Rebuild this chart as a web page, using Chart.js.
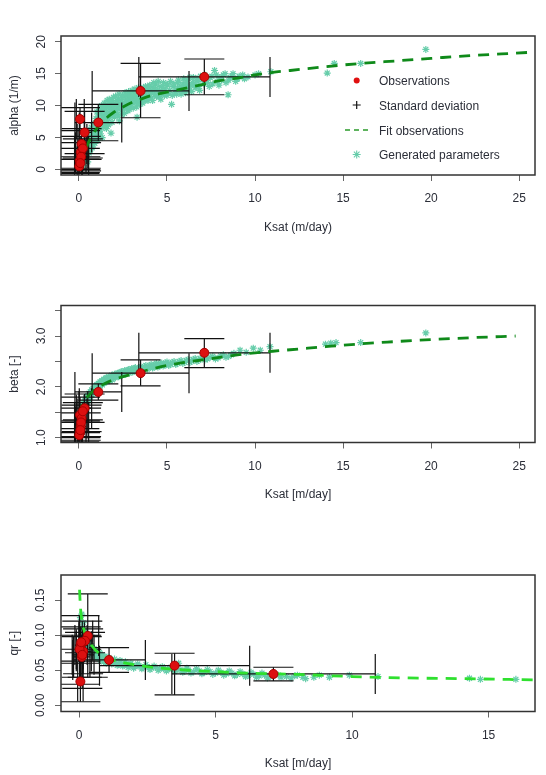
<!DOCTYPE html>
<html>
<head>
<meta charset="utf-8">
<script src="https://cdn.jsdelivr.net/npm/chart.js@4.4.1/dist/chart.umd.min.js"></script>
<style>
    body { margin: 0; background: #fff; }
    canvas { position: absolute; left: 0; }
</style>
</head>
<body>
<canvas id="alphaChart" width="546" height="250" style="top:0px"></canvas>
<canvas id="betaChart" width="546" height="250" style="top:260px"></canvas>
<canvas id="qrChart" width="546" height="245" style="top:530px"></canvas>
<script>
// Observations (shared Ksat values and their standard deviation range)
const obsKsat   = [7.12, 3.50, 1.10, 0.32, 0.06, 0.15, 0.10, 0.22, 0.05, 0.02, 0.12, 0.08];
const obsKsatLo = [3.40, 0.75, -0.23, 0.02, -0.15, -0.10, -0.20, 0.00, -0.05, -0.10, -0.25, 0.00];
const obsKsatHi = [10.85, 6.25, 2.43, 0.72, 0.30, 0.45, 0.40, 0.50, 0.15, 0.15, 0.55, 0.20];

const obsAlpha   = [14.5, 12.3, 7.35, 5.8, 7.9, 4.0, 2.7, 3.3, 1.4, 0.5, 2.0, 1.0];
const obsAlphaLo = [11.7, 8.1, 4.5, 2.5, 6.1, 1.6, 0.2, 1.8, -0.5, -0.6, -0.2, 0.0];
const obsAlphaHi = [17.3, 16.6, 10.2, 9.1, 9.7, 6.4, 5.2, 4.8, 3.3, 1.6, 4.2, 2.0];

const obsBeta   = [2.67, 2.27, 1.90, 1.58, 1.45, 1.38, 1.22, 1.52, 1.09, 1.05, 1.30, 1.15];
const obsBetaLo = [2.38, 2.02, 1.74, 1.30, 1.10, 1.12, 0.95, 1.35, 0.85, 0.92, 1.02, 1.00];
const obsBetaHi = [2.95, 2.53, 2.06, 1.86, 1.80, 1.64, 1.49, 1.69, 1.33, 1.18, 1.58, 1.30];

const obsQr   = [0.0447, 0.0566, 0.0647, 0.099, 0.086, 0.077, 0.069, 0.092, 0.034, 0.080, 0.072, 0.090];
const obsQrLo = [0.0347, 0.0147, 0.0471, 0.040, 0.060, 0.045, 0.040, 0.075, 0.005, 0.030, 0.024, 0.080];
const obsQrHi = [0.0543, 0.0743, 0.0823, 0.159, 0.112, 0.109, 0.098, 0.104, 0.063, 0.128, 0.120, 0.100];

// Fitted curves
const fitKsatAlpha = [0.15, 0.3, 0.5, 0.75, 1, 1.5, 2, 2.5, 3, 3.5, 4, 5, 6, 7, 8, 9, 10, 11, 12, 14, 16, 18, 20, 22, 24, 26];
const fitAlpha     = [0.3, 2.2, 4.0, 5.3, 6.4, 7.9, 9.0, 9.8, 10.5, 11.0, 11.5, 12.1, 12.7, 13.3, 13.9, 14.3, 14.8, 15.2, 15.5, 16.1, 16.6, 17.0, 17.4, 17.8, 18.1, 18.4];

const fitKsatBeta = [0.05, 0.1, 0.2, 0.35, 0.5, 0.75, 1, 1.5, 2, 2.5, 3, 4, 5, 6, 7, 8, 9, 10, 11, 12, 13, 14, 15, 17.5, 20, 22.5, 24.8];
const fitBeta     = [1.45, 1.55, 1.66, 1.75, 1.81, 1.90, 1.97, 2.07, 2.15, 2.20, 2.25, 2.34, 2.42, 2.48, 2.53, 2.58, 2.63, 2.67, 2.70, 2.73, 2.76, 2.79, 2.82, 2.88, 2.93, 2.97, 3.00];

const fitKsatQr = [0.02, 0.04, 0.07, 0.12, 0.2, 0.35, 0.6, 1, 1.5, 2, 3, 4, 5, 6, 7, 8, 10, 12, 14, 17];
const fitQr     = [0.165, 0.148, 0.132, 0.118, 0.105, 0.092, 0.079, 0.068, 0.062, 0.058, 0.053, 0.050, 0.048, 0.046, 0.045, 0.044, 0.041, 0.039, 0.038, 0.036];

// Generated parameters
const genKsatAlpha = [0.12, 0.18, 0.22, 0.26, 0.3, 0.33, 0.37, 0.4, 0.44, 0.47, 0.5, 0.5,
    0.55, 0.58, 0.62, 0.65, 0.68, 0.72, 0.75, 0.78, 0.82, 0.85, 0.88, 0.92, 0.95, 0.98, 1.0,
    1.03, 1.06, 1.1, 1.14, 1.18, 1.22, 1.25, 1.3, 1.34, 1.38, 1.42, 1.46, 1.5,
    1.55, 1.58, 1.62, 1.66, 1.7, 1.74, 1.78, 1.82, 1.86, 1.9, 1.94, 1.98,
    2.05, 2.1, 2.15, 2.2, 2.25, 2.3, 2.35, 2.4, 2.45, 2.5, 2.55, 2.6, 2.65, 2.7, 2.75, 2.8, 2.85, 2.9, 2.95,
    3.05, 3.1, 3.15, 3.2, 3.25, 3.3, 3.35, 3.4, 3.5, 3.55, 3.6, 3.7, 3.75, 3.8, 3.9, 3.95,
    4.05, 4.1, 4.2, 4.3, 4.35, 4.45, 4.55, 4.6, 4.7, 4.8, 4.9, 5.0, 5.05, 5.15, 5.26, 5.35, 5.45,
    5.6, 5.7, 5.8, 5.9, 6.0, 6.15, 6.25, 6.35, 6.5, 6.6, 6.75, 6.9,
    7.1, 7.25, 7.4, 7.55, 7.7, 7.85, 8.0, 8.2, 8.35, 8.47, 8.6, 8.75, 9.0, 9.3, 9.6, 10.0, 10.2,
    10.9, 14.1, 14.5, 16.0, 19.7,
    0.52, 0.6, 0.66, 0.7, 0.76, 0.8, 0.84, 0.9, 0.94, 0.97,
    1.02, 1.08, 1.12, 1.16, 1.2, 1.28, 1.32, 1.36, 1.4, 1.44, 1.5, 1.56, 1.6, 1.64, 1.68, 1.72, 1.76, 1.8, 1.84, 1.88, 1.92, 1.96,
    2.02, 2.08, 2.12, 2.18, 2.22, 2.28, 2.32, 2.38, 2.42, 2.48, 2.52, 2.58, 2.62, 2.68, 2.72, 2.78, 2.82, 2.88, 2.92, 2.98,
    3.02, 3.08, 3.12, 3.18, 3.22, 3.28, 3.32, 3.38, 3.45, 3.52, 3.58, 3.62, 3.68, 3.72, 3.78, 3.85, 3.92, 3.98,
    4.02, 4.12, 4.18, 4.25, 4.32, 4.4, 4.5, 4.58, 4.65, 4.75, 4.85, 4.95, 5.1, 5.2, 5.3, 5.4, 5.5,
    5.55, 5.65, 5.75, 5.85, 5.95, 6.05, 6.1, 6.2, 6.3, 6.4, 6.45, 6.55, 6.7, 6.8, 6.85, 7.0, 7.15, 7.3, 7.45, 7.6, 7.8, 7.95, 8.1, 8.3, 8.5, 8.7, 8.9, 9.1, 9.4];
const genAlpha = [0.2, 1.0, 0.4, 1.8, 0.9, 2.6, 1.5, 3.3, 2.2, 4.0, 1.2, 3.0,
    4.6, 2.6, 3.8, 5.3, 4.3, 6.0, 3.4, 5.0, 6.6, 4.6, 5.8, 7.1, 5.2, 6.4, 7.6,
    5.8, 8.0, 6.8, 8.6, 7.4, 5.6, 9.0, 7.8, 8.4, 6.6, 9.4, 8.0, 7.0,
    9.8, 8.6, 7.6, 10.0, 9.0, 8.2, 10.4, 5.7, 9.4, 8.6, 10.6, 9.2,
    10.0, 8.8, 10.8, 9.6, 11.0, 7.6, 10.2, 9.2, 11.2, 10.4, 9.6, 11.4, 10.6, 9.8, 11.6, 10.8, 9.4, 11.0, 11.8,
    10.4, 11.4, 12.0, 10.8, 11.6, 8.2, 12.2, 11.0, 11.8, 10.6, 12.4, 11.4, 12.0, 10.9, 12.6, 11.6,
    12.2, 11.2, 12.8, 11.8, 13.4, 12.4, 11.4, 13.0, 12.0, 13.6, 12.6, 11.6, 13.2, 12.4, 10.2, 13.0, 12.0,
    13.6, 12.6, 11.8, 13.4, 12.8, 14.0, 12.4, 13.2, 14.4, 12.8, 13.8, 14.6,
    13.4, 14.2, 13.0, 14.6, 15.5, 13.8, 14.4, 14.8, 13.6, 11.7, 14.4, 15.0, 14.2, 14.8, 14.5, 14.8, 15.0,
    15.3, 15.1, 16.6, 16.6, 18.8,
    5.6, 4.9, 3.1, 6.6, 5.8, 3.9, 7.2, 4.1, 6.0, 8.0,
    9.0, 4.6, 7.2, 9.4, 6.2, 10.0, 5.0, 9.6, 7.2, 10.4, 9.0, 6.4, 10.8, 8.2, 7.0, 11.0, 9.6, 8.4, 10.8, 7.4, 9.8, 11.3,
    8.2, 11.5, 9.2, 10.2, 8.4, 11.8, 9.8, 10.6, 8.6, 11.6, 10.0, 8.8, 12.0, 10.2, 11.0, 9.2, 12.2, 10.4, 9.8, 11.4,
    12.4, 9.6, 10.8, 12.6, 11.2, 9.8, 10.4, 12.8, 10.2, 12.6, 11.6, 10.4, 12.8, 11.0, 13.0, 12.2, 10.8, 12.9,
    13.2, 12.0, 10.8, 13.6, 12.6, 11.4, 13.8, 12.2, 11.0, 12.8, 11.6, 13.4, 12.0, 13.8, 11.6, 13.4, 12.6,
    11.8, 14.0, 13.0, 12.2, 14.2, 12.0, 13.4, 12.8, 14.4, 12.2, 13.6, 13.2, 14.2, 13.0, 12.4, 14.0, 14.8, 13.6, 14.4, 13.4, 14.8, 13.2, 14.0, 15.0, 14.0, 14.6, 13.8, 14.6, 14.2];

const genKsatBeta = [0.12, 0.15, 0.18, 0.2, 0.24, 0.27, 0.3, 0.33, 0.36, 0.4, 0.44, 0.48, 0.52, 0.56, 0.6, 0.64, 0.68, 0.72, 0.76, 0.8,
    0.85, 0.9, 0.95, 1.0, 1.05, 1.1, 1.15, 1.2, 1.25, 1.3, 1.36, 1.42, 1.48, 1.55, 1.62, 1.7, 1.78, 1.86, 1.94,
    2.02, 2.1, 2.2, 2.3, 2.4, 2.5, 2.6, 2.7, 2.8, 2.9, 3.0, 3.1, 3.2, 3.35, 3.5, 3.65, 3.8, 3.95,
    4.1, 4.25, 4.4, 4.55, 4.7, 4.85, 5.0, 5.2, 5.4, 5.6, 5.8, 6.0, 6.2, 6.4, 6.6, 6.8, 7.0, 7.3, 7.6, 7.9,
    8.2, 8.5, 8.8, 9.15, 9.5, 9.9, 10.3, 10.85, 14.0, 14.3, 14.6, 16.0, 19.7,
    0.32, 0.38, 0.42, 0.46, 0.5, 0.54, 0.58, 0.62, 0.66, 0.7, 0.74, 0.78, 0.82, 0.87, 0.92, 0.97,
    1.02, 1.07, 1.12, 1.17, 1.22, 1.28, 1.33, 1.39, 1.45, 1.52, 1.58, 1.66, 1.74, 1.82, 1.9, 1.98,
    2.06, 2.15, 2.25, 2.35, 2.45, 2.55, 2.65, 2.75, 2.85, 2.95, 3.05, 3.15, 3.28, 3.42, 3.58, 3.72, 3.88, 4.02,
    4.18, 4.32, 4.48, 4.62, 4.78, 4.92, 5.1, 5.3, 5.5, 5.7, 5.9, 6.1, 6.3, 6.5, 6.7, 6.9, 7.15, 7.45, 7.75, 8.05, 8.35, 8.65];
const genBeta = [1.42, 1.55, 1.48, 1.62, 1.56, 1.68, 1.60, 1.72, 1.66, 1.78, 1.70, 1.82, 1.76, 1.87, 1.80, 1.90, 1.84, 1.94, 1.88, 1.97,
    1.92, 2.01, 1.95, 2.04, 1.98, 2.07, 2.02, 2.10, 2.05, 2.12, 2.07, 2.15, 2.10, 2.18, 2.12, 2.20, 2.15, 2.23, 2.17,
    2.25, 2.20, 2.27, 2.22, 2.30, 2.25, 2.32, 2.27, 2.34, 2.29, 2.36, 2.31, 2.38, 2.33, 2.40, 2.35, 2.42, 2.37,
    2.44, 2.39, 2.46, 2.41, 2.47, 2.43, 2.49, 2.44, 2.50, 2.46, 2.52, 2.48, 2.54, 2.50, 2.56, 2.52, 2.58, 2.55, 2.60, 2.57,
    2.63, 2.60, 2.66, 2.72, 2.68, 2.76, 2.72, 2.79, 2.84, 2.86, 2.87, 2.87, 3.06,
    1.62, 1.74, 1.66, 1.78, 1.72, 1.82, 1.76, 1.86, 1.80, 1.90, 1.84, 1.93, 1.88, 1.97, 1.92, 2.00,
    1.95, 2.04, 1.99, 2.07, 2.02, 2.10, 2.04, 2.13, 2.08, 2.16, 2.10, 2.18, 2.12, 2.20, 2.14, 2.23,
    2.18, 2.26, 2.20, 2.28, 2.23, 2.30, 2.25, 2.32, 2.27, 2.34, 2.29, 2.36, 2.31, 2.38, 2.33, 2.40, 2.35, 2.42,
    2.37, 2.44, 2.39, 2.45, 2.41, 2.47, 2.42, 2.48, 2.44, 2.50, 2.46, 2.52, 2.48, 2.54, 2.50, 2.56, 2.53, 2.58, 2.55, 2.61, 2.58, 2.63];

const genKsatQr = [0.05, 0.08, 0.1, 0.12, 0.15, 0.18, 0.2, 0.24, 0.28, 0.32, 0.36, 0.4, 0.45, 0.5, 0.55, 0.6, 0.65, 0.7, 0.75, 0.8,
    0.85, 0.9, 0.95, 1.0, 1.1, 1.2, 1.3, 1.4, 1.5, 1.6, 1.7, 1.8, 1.9, 2.0, 2.15, 2.3, 2.45, 2.6, 2.75, 2.9,
    3.05, 3.2, 3.35, 3.5, 3.65, 3.8, 3.95, 4.1, 4.3, 4.5, 4.7, 4.9, 5.1, 5.3, 5.5, 5.7, 5.9, 6.1, 6.3, 6.5,
    6.7, 6.9, 7.1, 7.4, 7.77, 8.0, 8.3, 8.6, 8.8, 9.17, 9.9, 10.95, 14.3, 14.7, 16.0,
    0.14, 0.22, 0.26, 0.3, 0.38, 0.42, 0.48, 0.52, 0.58, 0.62, 0.68, 0.72, 0.78, 0.82, 0.88, 0.92, 0.98,
    1.05, 1.15, 1.25, 1.35, 1.45, 1.55, 1.65, 1.75, 1.85, 1.95, 2.05, 2.2, 2.35, 2.5, 2.65, 2.8, 2.95,
    3.1, 3.25, 3.4, 3.55, 3.7, 3.85, 4.0, 4.2, 4.4, 4.6, 4.8, 5.0, 5.2, 5.4, 5.6, 5.8, 6.0, 6.2, 6.4, 6.6, 6.8, 7.0, 7.3, 7.6, 7.9, 8.2];
const genQr = [0.125, 0.110, 0.130, 0.100, 0.118, 0.092, 0.105, 0.086, 0.097, 0.080, 0.090, 0.076, 0.085, 0.072, 0.081, 0.069, 0.078, 0.067, 0.075, 0.064,
    0.072, 0.062, 0.070, 0.060, 0.068, 0.059, 0.066, 0.057, 0.064, 0.056, 0.062, 0.054, 0.060, 0.053, 0.059, 0.052, 0.058, 0.051, 0.056, 0.050,
    0.055, 0.049, 0.054, 0.048, 0.060, 0.047, 0.053, 0.046, 0.052, 0.045, 0.051, 0.044, 0.050, 0.043, 0.049, 0.042, 0.048, 0.041, 0.047, 0.040,
    0.046, 0.039, 0.045, 0.040, 0.039, 0.043, 0.038, 0.040, 0.043, 0.040, 0.043, 0.041, 0.0386, 0.037, 0.037,
    0.108, 0.098, 0.092, 0.088, 0.083, 0.080, 0.078, 0.076, 0.074, 0.072, 0.071, 0.069, 0.068, 0.067, 0.066, 0.065, 0.064,
    0.063, 0.062, 0.060, 0.061, 0.058, 0.059, 0.057, 0.058, 0.056, 0.057, 0.055, 0.056, 0.054, 0.055, 0.053, 0.054, 0.052,
    0.052, 0.051, 0.052, 0.050, 0.051, 0.049, 0.050, 0.048, 0.049, 0.047, 0.048, 0.046, 0.047, 0.045, 0.046, 0.044, 0.045, 0.043, 0.044, 0.042, 0.043, 0.041, 0.043, 0.041, 0.042, 0.040];

const FONT = "'Liberation Sans', Arial, Helvetica, sans-serif";
const TEXT_COLOR = '#2b2e38';
const TICK_COLOR = '#666';
const TEAL = '#66cdaa';
const BOX_LEFT = 61;
const BOX_RIGHT = 535;

function pairs(xs, ys) {
    return xs.map((x, i) => ({ x: x, y: ys[i] }));
}

// Error bar segments, separated by gaps
function errorBarData(vals, lo, hi) {
    const out = [];
    obsKsat.forEach((k, i) => {
        out.push({ x: obsKsatLo[i], y: vals[i] }, { x: obsKsatHi[i], y: vals[i] }, { x: null, y: null });
        out.push({ x: k, y: lo[i] }, { x: k, y: hi[i] }, { x: null, y: null });
    });
    return out;
}

function buildDatasets(vals, lo, hi, fitK, fitV, genK, genV, fitColor) {
    return [
        {
            label: 'Observations',
            data: pairs(obsKsat, vals),
            pointRadius: 4.5,
            pointBackgroundColor: '#dc1010',
            pointBorderColor: '#a80000',
            pointBorderWidth: 1
        },
        {
            label: 'Fit observations',
            data: pairs(fitK, fitV),
            showLine: true,
            pointRadius: 0,
            borderColor: fitColor,
            borderWidth: 2.8,
            borderDash: [11, 8],
            cubicInterpolationMode: 'monotone'
        },
        {
            // caps on the vertical bars
            label: 'capsH',
            data: pairs(obsKsat, lo).concat(pairs(obsKsat, hi)),
            pointStyle: 'line',
            pointRadius: 20,
            pointRotation: 0,
            pointBorderColor: '#111',
            pointBorderWidth: 1.2
        },
        {
            // caps on the horizontal bars
            label: 'capsV',
            data: pairs(obsKsatLo, vals).concat(pairs(obsKsatHi, vals)),
            pointStyle: 'line',
            pointRadius: 20,
            pointRotation: 90,
            pointBorderColor: '#111',
            pointBorderWidth: 1.2
        },
        {
            label: 'Standard deviation',
            data: errorBarData(vals, lo, hi),
            showLine: true,
            spanGaps: false,
            pointRadius: 0,
            borderColor: '#111',
            borderWidth: 1.2
        },
        {
            label: 'Generated parameters',
            data: pairs(genK, genV),
            pointStyle: 'star',
            pointRadius: 3.5,
            pointBorderColor: TEAL,
            pointBorderWidth: 1.2
        }
    ];
}

const boxPlugin = {
    id: 'plotBox',
    afterDraw(chart) {
        const { ctx, chartArea: a } = chart;
        ctx.save();
        ctx.strokeStyle = '#333';
        ctx.lineWidth = 1.5;
        ctx.strokeRect(a.left, a.top, a.right - a.left, a.bottom - a.top);
        ctx.restore();
    }
};

// R style legend (no frame) inside the first panel
const legendPlugin = {
    id: 'rLegend',
    afterDraw(chart) {
        const ctx = chart.ctx;
        const sx = 356.7, tx = 379;
        const rows = [80.5, 105, 130, 154.5];
        const labels = ['Observations', 'Standard deviation', 'Fit observations', 'Generated parameters'];
        ctx.save();
        // red dot
        ctx.fillStyle = '#e01010';
        ctx.beginPath();
        ctx.arc(sx, rows[0], 3, 0, Math.PI * 2);
        ctx.fill();
        // plus
        ctx.strokeStyle = '#111';
        ctx.lineWidth = 1.2;
        ctx.beginPath();
        ctx.moveTo(sx - 4, rows[1]); ctx.lineTo(sx + 4, rows[1]);
        ctx.moveTo(sx, rows[1] - 4); ctx.lineTo(sx, rows[1] + 4);
        ctx.stroke();
        // dashed line
        ctx.strokeStyle = '#2a9a2a';
        ctx.lineWidth = 1.5;
        ctx.setLineDash([5, 4]);
        ctx.beginPath();
        ctx.moveTo(345, rows[2]); ctx.lineTo(369, rows[2]);
        ctx.stroke();
        ctx.setLineDash([]);
        // asterisk
        ctx.strokeStyle = TEAL;
        ctx.lineWidth = 1.1;
        ctx.beginPath();
        for (let k = 0; k < 4; k++) {
            const r = k * Math.PI / 4;
            ctx.moveTo(sx - 4 * Math.cos(r), rows[3] - 4 * Math.sin(r));
            ctx.lineTo(sx + 4 * Math.cos(r), rows[3] + 4 * Math.sin(r));
        }
        ctx.stroke();
        ctx.fillStyle = TEXT_COLOR;
        ctx.font = '12px ' + FONT;
        ctx.textBaseline = 'middle';
        labels.forEach((t, i) => ctx.fillText(t, tx, rows[i] + 1.5));
        ctx.restore();
    }
};

function makePanel(id, p) {
    const canvas = document.getElementById(id);
    const H = canvas.height;
    const font = { family: FONT, size: 12 };
    return new Chart(canvas, {
        type: 'scatter',
        data: { datasets: p.datasets.map(d => Object.assign({ clip: 0 }, d)) },
        options: {
            responsive: false,
            animation: false,
            devicePixelRatio: 1,
            events: [],
            layout: {
                autoPadding: false,
                padding: { left: 0, right: 546 - BOX_RIGHT, top: p.top, bottom: 0 }
            },
            plugins: {
                legend: { display: false },
                tooltip: { enabled: false }
            },
            scales: {
                x: {
                    type: 'linear',
                    position: 'bottom',
                    min: p.xMin,
                    max: p.xMax,
                    afterFit: s => {
                        s.height = H - p.bottom;
                        s.paddingLeft = 0;
                        s.paddingRight = 0;
                    },
                    border: { display: false },
                    grid: { drawOnChartArea: false, drawTicks: true, tickLength: 6, color: TICK_COLOR },
                    ticks: {
                        stepSize: 5, includeBounds: false, autoSkip: false, maxRotation: 0,
                        color: TEXT_COLOR, font: font, padding: 10.5
                    },
                    title: {
                        display: true, text: p.xTitle, color: TEXT_COLOR, font: font,
                        padding: { top: 0, bottom: H - p.bottom - p.titleGap - 7.2 }
                    }
                },
                y: {
                    type: 'linear',
                    position: 'left',
                    min: p.yMin,
                    max: p.yMax,
                    afterFit: s => {
                        s.width = BOX_LEFT;
                        s.paddingTop = 0;
                        s.paddingBottom = 0;
                    },
                    border: { display: false },
                    grid: { drawOnChartArea: false, drawTicks: true, tickLength: 6, color: TICK_COLOR },
                    ticks: {
                        stepSize: p.yStep, includeBounds: false, autoSkip: false,
                        minRotation: 90, maxRotation: 90, crossAlign: 'center',
                        padding: p.yTickPad, color: TEXT_COLOR, font: font,
                        callback: p.yLabel
                    },
                    title: {
                        display: true, text: p.yTitle, color: TEXT_COLOR, font: font,
                        padding: { top: 7.3, bottom: 0 }
                    }
                }
            }
        },
        plugins: p.legend ? [boxPlugin, legendPlugin] : [boxPlugin]
    });
}

makePanel('alphaChart', {
    top: 36, bottom: 175, titleGap: 53,
    xMin: -1.02, xMax: 25.9, yMin: -0.86, yMax: 20.9, yStep: 5, yTickPad: 6.7,
    yLabel: v => String(v),
    xTitle: 'Ksat (m/day)', yTitle: 'alpha (1/m)',
    legend: true,
    datasets: buildDatasets(obsAlpha, obsAlphaLo, obsAlphaHi, fitKsatAlpha, fitAlpha, genKsatAlpha, genAlpha, '#0f8a1a')
});

makePanel('betaChart', {
    top: 45.5, bottom: 182.5, titleGap: 52.5,
    xMin: -1.02, xMax: 25.9, yMin: 0.906, yMax: 3.60, yStep: 0.5, yTickPad: 5.1,
    yLabel: v => (Math.abs(v - Math.round(v)) < 1e-6 ? v.toFixed(1) : ''),
    xTitle: 'Ksat [m/day]', yTitle: 'beta [-]',
    datasets: buildDatasets(obsBeta, obsBetaLo, obsBetaHi, fitKsatBeta, fitBeta, genKsatBeta, genBeta, '#0f8a1a')
});

makePanel('qrChart', {
    top: 45, bottom: 181.5, titleGap: 52,
    xMin: -0.66, xMax: 16.7, yMin: -0.0089, yMax: 0.186, yStep: 0.05, yTickPad: 2.3,
    yLabel: v => v.toFixed(2),
    xTitle: 'Ksat [m/day]', yTitle: 'qr [-]',
    datasets: buildDatasets(obsQr, obsQrLo, obsQrHi, fitKsatQr, fitQr, genKsatQr, genQr, '#2fe02f')
});
</script>
</body>
</html>
